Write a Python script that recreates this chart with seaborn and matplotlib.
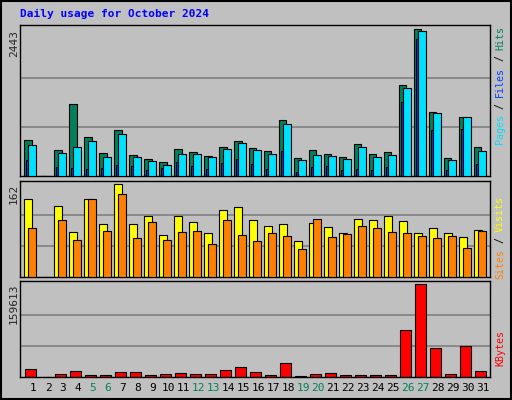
import matplotlib
matplotlib.use("Agg")
import matplotlib.pyplot as plt
import seaborn as sns
import numpy as np
from matplotlib.patches import Rectangle

sns.set_style("white")
plt.rcParams['font.family'] = ['DejaVu Sans Mono']

days = list(range(1, 32))
weekends = [5, 6, 12, 13, 19, 20, 26, 27]
hits = [593,0,427,1207,642,376,758,343,277,227,443,393,326,476,576,459,409,930,293,426,360,310,526,360,393,1522,2443,1074,293,991,476]
pages = [510,0,376,476,576,310,692,310,243,177,360,360,310,443,542,426,360,858,260,343,326,277,476,310,343,1472,2420,1057,260,991,409]
files = [260,0,150,133,116,133,183,166,100,133,227,166,116,210,282,199,116,409,66,150,166,100,116,100,150,1229,2286,758,100,791,199]
visits = [137,0,125,79,136,93,162,93,106,74,107,97,77,118,122,100,90,92,63,95,88,77,102,100,107,98,77,85,77,70,83]
sites = [86,0,100,65,137,81,146,69,97,65,79,81,58,99,74,63,77,72,49,102,70,76,90,85,79,77,72,69,72,51,81]
kbytes = [14563,0,5825,11068,4078,4078,9320,9320,4078,5825,7573,5825,5825,12815,16310,9320,4078,23300,1500,5825,7573,4078,4078,4078,4078,80968,159613,49513,5825,53008,11068]

BG = "#C0C0C0"
fig = plt.figure(figsize=(5.12, 4.0), dpi=100, facecolor=BG)
W, H = 512, 400
def ax_at(x0, y0, x1, y1):
    return fig.add_axes([x0/W, 1-y1/H, (x1-x0)/W, (y1-y0)/H])

x = np.array(days, dtype=float)
def style(ax, ymax, maxval):
    ax.set_facecolor(BG)
    ax.set_xlim(0.13, 31.47)
    ax.set_ylim(0, ymax)
    for f in (1/3, 2/3):
        ax.axhline(maxval*f, color="#808080", lw=1.2, zorder=0)
    ax.set_xticks([]); ax.set_yticks([])
    for s in ax.spines.values():
        s.set_color("black"); s.set_linewidth(1)

a1 = ax_at(20, 25, 490, 176)
style(a1, 2515, 2443)
a1.bar(x-0.6, hits, width=0.5, align='edge', color="#00805C", edgecolor="black", lw=0.8, zorder=2)
a1.bar(x-0.47, files, width=0.15, align='edge', color="#0040FF", edgecolor="black", lw=0.8, zorder=3)
a1.bar(x-0.33, pages, width=0.5, align='edge', color="#00E0FF", edgecolor="black", lw=0.8, zorder=4)

a2 = ax_at(20, 181, 490, 277)
style(a2, 168, 162)
a2.bar(x-0.6, visits, width=0.55, align='edge', color="#FFFF00", edgecolor="black", lw=0.8, zorder=2)
a2.bar(x-0.33, sites, width=0.5, align='edge', color="#FF8000", edgecolor="black", lw=0.8, zorder=3)

a3 = ax_at(20, 281, 490, 377)
style(a3, 164800, 159613)
a3.bar(x-0.53, kbytes, width=0.7, align='edge', color="#FF0000", edgecolor="black", lw=0.8, zorder=2)

for d in days:
    a3.text(d, -0.06, str(d), transform=a3.get_xaxis_transform(), ha='center', va='top',
            fontsize=8, color="#00805C" if d in weekends else "black")

fig.text(20/W, 1-14/H, "Daily usage for October 2024", color="#0000FF", fontsize=8,
         fontweight='bold', ha='left', va='center')
for lab, y in (("2443", 30), ("162", 184), ("159613", 284)):
    fig.text(14/W, 1-y/H, lab, rotation=90, ha='center', va='top', fontsize=8)

STEP = 5.9
def side(pieces, ytop):
    y = ytop
    for txt, col in pieces:
        fig.text(500/W, 1-(y + STEP*len(txt)/2)/H, txt, rotation=90, ha='center', va='center',
                 fontsize=7.2, color=col)
        y += STEP*len(txt)
side([("Hits", "#00805C"), (" / ", "black"), ("Files", "#0040FF"), (" / ", "black"), ("Pages", "#00E0FF")], 26)
side([("Visits", "#FFFF00"), (" / ", "black"), ("Sites", "#FF8000")], 196)
side([("KBytes", "#FF0000")], 330)

fig.add_artist(Rectangle((0.002, 0.002), 0.996, 0.996, transform=fig.transFigure,
                         fill=False, edgecolor="black", lw=1.5))
fig.savefig("out.png", dpi=100, facecolor=BG)
